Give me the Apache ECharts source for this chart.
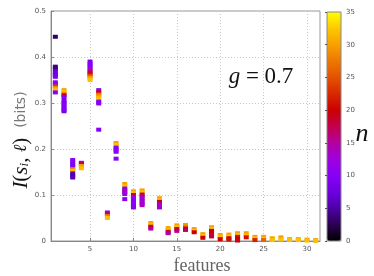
<!DOCTYPE html>
<html><head><meta charset="utf-8">
<script src="https://cdn.jsdelivr.net/npm/echarts@6/dist/echarts.min.js"></script>
<style>html,body{margin:0;padding:0;background:#fff}#c{width:374px;height:276px}</style>
</head><body><div id="c"></div>
<script>
// feature index, information value (bits), n (colour)
const feature = [
 1,1,1,1,1,1,1,1,1,1,1,1,1,
 2,2,2,2,2,2,2,2,2,2,2,
 3,3,3,3,3,3,3,3,3,
 4,4,4,4,
 5,5,5,5,5,5,5,5,5,5,
 6,6,6,6,6,6,6,6,
 7,7,7,7,
 8,8,8,8,8,8,
 9,9,9,9,9,9,9,
 10,10,10,10,10,10,10,10,10,
 11,11,11,11,11,11,11,11,
 12,12,12,12,
 13,13,13,13,13,13,
 14,14,14,14,
 15,15,15,15,
 16,16,16,16,
 17,17,17,
 18,18,18,
 19,19,19,19,19,19,
 20,20,20,
 21,21,21,21,
 22,22,22,22,22,
 23,23,23,
 24,24,24,
 25,25,25,
 26,26,
 27,27,
 28,28,
 29,29,
 30,30,
 31,31
];
const info = [
 0.444,0.379,0.375,0.369,0.365,0.361,0.357,0.345,0.341,0.336,0.332,0.328,0.323,
 0.328,0.324,0.320,0.317,0.313,0.305,0.300,0.295,0.290,0.285,0.282,
 0.176,0.171,0.166,0.161,0.156,0.152,0.147,0.142,0.138,
 0.170,0.168,0.163,0.158,
 0.390,0.385,0.380,0.375,0.370,0.366,0.362,0.358,0.354,0.350,
 0.328,0.323,0.318,0.314,0.310,0.303,0.299,0.242,
 0.062,0.058,0.054,0.050,
 0.213,0.209,0.203,0.199,0.194,0.179,
 0.124,0.119,0.114,0.110,0.106,0.102,0.091,
 0.108,0.104,0.100,0.096,0.091,0.086,0.081,0.076,0.073,
 0.110,0.106,0.101,0.097,0.092,0.087,0.082,0.078,
 0.039,0.035,0.031,0.027,
 0.093,0.089,0.085,0.081,0.077,0.073,
 0.028,0.024,0.020,0.017,
 0.034,0.030,0.026,0.022,
 0.035,0.031,0.027,0.024,
 0.026,0.022,0.019,
 0.015,0.011,0.007,
 0.030,0.026,0.022,0.018,0.013,0.010,
 0.013,0.009,0.004,
 0.014,0.010,0.006,0.003,
 0.017,0.013,0.009,0.005,0.001,
 0.017,0.012,0.008,
 0.009,0.005,0.002,
 0.009,0.005,0.002,
 0.006,0.002,
 0.008,0.003,
 0.004,0.002,
 0.004,0.002,
 0.003,0.001,
 0.002,0.000
];
const nval = [
 3,4,4,7,8,8,9,10,11,24,30,32,10,
 30,32,29,18,10,9,9,10,9,10,9,
 10,10,9,10,29,32,6,5,6,
 11,17,30,32,
 9,10,10,11,14,19,21,26,30,32,
 10,20,27,30,32,10,10,10,
 10,17,28,32,
 30,32,10,10,10,10,
 30,32,11,12,14,12,10,
 30,32,19,12,11,10,10,10,11,
 30,32,18,16,12,13,13,14,
 30,32,19,15,
 30,32,20,15,14,13,
 30,32,18,15,
 30,32,18,16,
 30,28,20,17,
 30,32,20,
 30,32,20,
 30,32,20,20,17,18,
 30,32,20,
 30,32,20,21,
 30,32,21,20,19,
 30,32,21,
 30,32,22,
 30,32,26,
 30,32,
 30,32,
 30,32,
 30,32,
 30,32,
 30,32
];
const xTicks = [5,10,15,20,25,30];
const nTicks = [0,5,10,15,20,25,30,35];
const palette = ['#000000','#2c0050','#4d00a8','#6e00e0','#8800f8','#9e00e0','#b400a0','#c4004c','#cc0000','#d82800','#e45200','#ee7800','#f8a000','#fdc800','#ffff00'];

const data = feature.map((f,i)=>[f, info[i], nval[i]]);
const chart = echarts.init(document.getElementById('c'), null, {renderer:'canvas'});
const lab = {color:'#555', fontSize:7, fontFamily:'DejaVu Sans'};
chart.setOption({
  animation:false,
  grid:[
    {left:51, top:11, right:54, bottom:35, show:true, borderColor:'#999', borderWidth:1},
    {left:327, top:12, width:14, height:229, show:true, borderColor:'#888', borderWidth:1, z:10}
  ],
  xAxis:[
    {type:'value', min:0.5, max:31.5, gridIndex:0,
     axisLine:{lineStyle:{color:'#888'}},
     axisTick:{inside:true, length:3, customValues:xTicks, lineStyle:{color:'#888'}},
     axisLabel:Object.assign({customValues:xTicks, margin:5}, lab),
     splitLine:{show:true, lineStyle:{color:'#c8c8c8', type:[1,2]}}},
    {type:'value', gridIndex:1, show:false, min:0, max:1}
  ],
  yAxis:[
    {type:'value', min:0, max:0.5, interval:0.1, gridIndex:0,
     axisLine:{show:true, lineStyle:{color:'#888'}},
     axisTick:{show:true, inside:true, length:3, lineStyle:{color:'#888'}},
     axisLabel:Object.assign({margin:5}, lab),
     splitLine:{show:true, lineStyle:{color:'#c8c8c8', type:[1,2]}}},
    {type:'value', min:0, max:35, interval:5, gridIndex:1, position:'right', z:10,
     axisLine:{show:false},
     axisTick:{show:true, inside:true, length:2, lineStyle:{color:'#555'}},
     axisLabel:Object.assign({margin:5}, lab),
     splitLine:{show:false}}
  ],
  visualMap:{type:'continuous', min:0, max:35, dimension:2, seriesIndex:0,
    left:327, top:12, itemWidth:14, itemHeight:229, padding:0,
    calculable:false, showLabel:false, text:null,
    inRange:{color:palette}},
  series:[{type:'scatter', xAxisIndex:0, yAxisIndex:0, data:data,
    symbol:'rect', symbolSize:[5,4], itemStyle:{opacity:1}}],
  graphic:[
    {type:'text', x:261, y:77, z:20, style:{
      text:'{i|g}{r| = 0.7}', align:'center', verticalAlign:'middle', textAlign:'center', textVerticalAlign:'middle',
      rich:{i:{fontFamily:'Liberation Serif', fontStyle:'italic', fontSize:23, fill:'#111', color:'#111'},
            r:{fontFamily:'Liberation Serif', fontSize:23, fill:'#111', color:'#111'}}}},
    {type:'text', x:362, y:134, z:20, style:{
      text:'n', font:'italic 26px "Liberation Serif"', fill:'#111', align:'center', verticalAlign:'middle', textAlign:'center', textVerticalAlign:'middle'}},
    {type:'text', x:202, y:266, z:20, style:{
      text:'features', font:'18px "Liberation Serif"', fill:'#666', align:'center', verticalAlign:'middle', textAlign:'center', textVerticalAlign:'middle'}},
    {type:'text', x:21, y:140, rotation:Math.PI/2, z:20, style:{
      text:'{i|I}{r|(}{i|s}{s|i}{r|, }{l|ℓ}{r|)}   {b|(bits)}', align:'center', verticalAlign:'middle', textAlign:'center', textVerticalAlign:'middle',
      rich:{i:{fontFamily:'Liberation Serif', fontStyle:'italic', fontSize:21, fill:'#111', color:'#111'},
            r:{fontFamily:'Liberation Serif', fontSize:21, fill:'#111', color:'#111'},
            s:{fontFamily:'Liberation Serif', fontStyle:'italic', fontSize:13, fill:'#111', color:'#111', padding:[8,0,0,0]},
            l:{fontFamily:'DejaVu Serif', fontStyle:'italic', fontSize:18, fill:'#111', color:'#111'},
            b:{fontFamily:'DejaVu Sans', fontSize:14, fill:'#777', color:'#777'}}}}
  ]
});
</script></body></html>
